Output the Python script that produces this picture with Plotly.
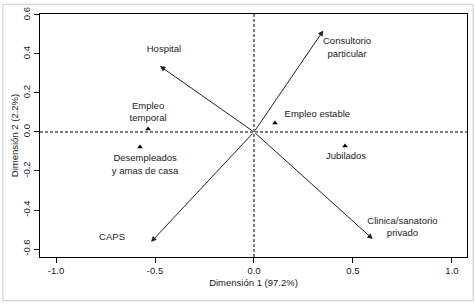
import plotly.graph_objects as go

# Arrow (column) categories
arrow_names = ["Hospital", "Consultorio<br>particular", "CAPS", "Clinica/sanatorio<br>privado"]
arrow_x = [-0.475, 0.35, -0.52, 0.60]
arrow_y = [0.338, 0.52, -0.564, -0.549]
arrow_label_x = [-0.455, 0.47, -0.717, 0.75]
arrow_label_y = [0.421, 0.43, -0.54, -0.49]

# Point (row) categories
point_names = ["Empleo<br>temporal", "Empleo estable", "Desempleados<br>y amas de casa", "Jubilados"]
point_x = [-0.535, 0.106, -0.576, 0.46]
point_y = [0.015, 0.046, -0.077, -0.072]
point_label_x = [-0.535, 0.32, -0.55, 0.465]
point_label_y = [0.10, 0.09, -0.17, -0.128]

x_ticks = [-1.0, -0.5, 0.0, 0.5, 1.0]
x_ticktext = ["-1.0", "-0.5", "0.0", "0.5", "1.0"]
y_ticks = [-0.6, -0.4, -0.2, 0.0, 0.2, 0.4, 0.6]
y_ticktext = ["-0.6", "-0.4", "-0.2", "0.0", "0.2", "0.4", "0.6"]

FONT = "Liberation Sans, Arial, sans-serif"
TXT = "#1a1a1a"
FS = 9.5

fig = go.Figure()

fig.add_trace(go.Scatter(
    x=point_x, y=point_y, mode="markers",
    marker=dict(symbol="triangle-up", size=5, color="black"),
    showlegend=False, hoverinfo="skip"))

fig.add_trace(go.Scatter(
    x=point_label_x + arrow_label_x, y=point_label_y + arrow_label_y,
    mode="text", text=point_names + arrow_names,
    textfont=dict(family=FONT, size=FS, color=TXT),
    showlegend=False, hoverinfo="skip"))

for xx, yy in zip(arrow_x, arrow_y):
    fig.add_annotation(x=xx, y=yy, ax=0, ay=0, xref="x", yref="y",
                       axref="x", ayref="y", text="", showarrow=True,
                       arrowhead=2, arrowsize=1.1, arrowwidth=1,
                       arrowcolor="#222222")

fig.add_hline(y=0, line=dict(color="black", width=1, dash="3px,2px"))
fig.add_vline(x=0, line=dict(color="black", width=1, dash="3px,2px"))

# outer light border
fig.add_shape(type="rect", xref="paper", yref="paper",
              x0=-0.087, x1=1.0145, y0=-0.18, y1=1.04,
              line=dict(color="#c8c8c8", width=1), layer="below")

fig.update_layout(
    width=476, height=306,
    margin=dict(l=40, r=9, t=14, b=49),
    paper_bgcolor="white", plot_bgcolor="white",
    font=dict(family=FONT, size=FS, color=TXT),
    xaxis=dict(range=[-1.081, 1.076], tickvals=x_ticks, ticktext=x_ticktext,
               automargin=False,
               showgrid=False, zeroline=False, showline=True, mirror=True,
               linecolor="black", linewidth=1, ticks="outside", ticklen=5,
               tickcolor="black",
               title=dict(text="Dimensión 1 (97.2%)", standoff=3,
                          font=dict(size=FS))),
    yaxis=dict(range=[-0.641, 0.605], tickvals=y_ticks, ticktext=y_ticktext,
               tickangle=-90, automargin=False,
               showgrid=False, zeroline=False, showline=True, mirror=True,
               linecolor="black", linewidth=1, ticks="outside", ticklen=5,
               tickcolor="black",
               title=dict(text="Dimensión 2 (2.2%)", standoff=0,
                          font=dict(size=FS))),
)

fig.write_html("out.html", config={"displayModeBar": False},
               post_script="document.body.style.margin='0';document.body.style.overflow='hidden';")
